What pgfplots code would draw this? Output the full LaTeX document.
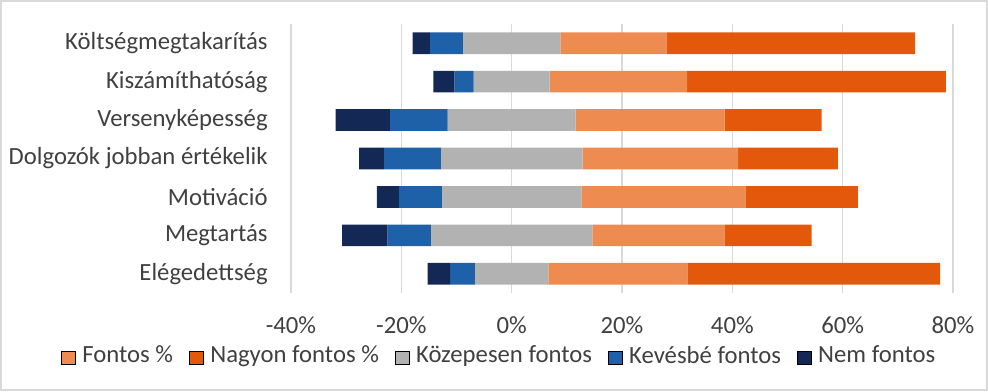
\documentclass[border=0pt]{standalone}
\usepackage{pgfplots}
\pgfplotsset{compat=1.18}
\usepackage{pgfplotstable}
\usepackage{fontspec}
\setmainfont{Carlito}
\definecolor{cF}{RGB}{237,139,80}
\definecolor{cNF}{RGB}{228,88,12}
\definecolor{cM}{RGB}{178,178,178}
\definecolor{cK}{RGB}{31,97,168}
\definecolor{cN}{RGB}{19,40,84}
\definecolor{txt}{RGB}{64,64,64}
\definecolor{gridc}{RGB}{217,217,217}

\pgfplotstableread{
y start N K M F NF
6 -17.95 3.1 6.0 17.7 19.2 45.1
5 -14.2 3.8 3.5 13.8 24.9 46.9
4 -31.9 9.8 10.5 23.2 27.0 17.6
3 -27.65 4.5 10.3 25.7 28.2 18.1
2 -24.45 4.0 7.8 25.3 29.7 20.4
1 -30.75 8.2 7.9 29.3 23.9 15.8
0 -15.25 4.1 4.5 13.3 25.2 45.8
}\datatable

\begin{document}
\begin{tikzpicture}
\useasboundingbox (0,0) rectangle (494pt,195.5pt);
\draw[gridc, line width=1pt] (0.5pt,0.5pt) rectangle (493.5pt,195pt);
\begin{axis}[
 at={(145.5pt,49pt)}, anchor=south west,
 scale only axis, width=331pt, height=134.5pt,
 xbar stacked, stack negative=on previous, bar width=10.85pt,
 xmin=-40, xmax=80, ymin=-0.5, ymax=6.5,
 axis line style={draw=none},
 major tick length=0,
 xtick={-40,-20,0,20,40,60,80},
 xticklabels={-40\%,-20\%,0\%,20\%,40\%,60\%,80\%},
 ytick={0,...,6},
 yticklabels={Elégedettség,Megtartás,Motiváció,Dolgozók jobban értékelik,Versenyképesség,Kiszámíthatóság,Költségmegtakarítás},
 xmajorgrids, grid style={draw=gridc, line width=0.75pt},
 tick label style={font=\fontsize{12.35}{14}\selectfont, text=txt},
 xticklabel style={anchor=base, yshift=-20pt, inner sep=0pt},
 yticklabel style={anchor=east, inner sep=0pt, xshift=-11.5pt},
 legend columns=5,
 legend style={draw=none, fill=none, at={(0.313,-0.234)}, anchor=center,
   font=\fontsize{12.35}{14}\selectfont, text=txt,
   nodes={inner xsep=0pt},
   /tikz/every even column/.append style={column sep=8pt},
   /tikz/every odd column/.append style={column sep=3.2pt}},
 legend image code/.code={\fill[#1] (0pt,-4.25pt) rectangle (7pt,2.25pt);},
]
\addplot[draw=none, fill=none, forget plot] table[x=start,y=y]{\datatable};
\addplot[draw=none, fill=cN, forget plot] table[x=N,y=y]{\datatable};
\addplot[draw=none, fill=cK, forget plot] table[x=K,y=y]{\datatable};
\addplot[draw=none, fill=cM, forget plot] table[x=M,y=y]{\datatable};
\addplot[draw=none, fill=cF, forget plot] table[x=F,y=y]{\datatable};
\addplot[draw=none, fill=cNF, forget plot] table[x=NF,y=y]{\datatable};
\draw[gridc, line width=0.75pt] (axis cs:0,-0.5) -- (axis cs:0,6.5);
\addlegendimage{fill=cF}
\addlegendentry{Fontos \%}
\addlegendimage{fill=cNF}
\addlegendentry{Nagyon fontos \%}
\addlegendimage{fill=cM}
\addlegendentry{Közepesen fontos}
\addlegendimage{fill=cK}
\addlegendentry{Kevésbé fontos}
\addlegendimage{fill=cN}
\addlegendentry{Nem fontos}
\end{axis}
\end{tikzpicture}
\end{document}
